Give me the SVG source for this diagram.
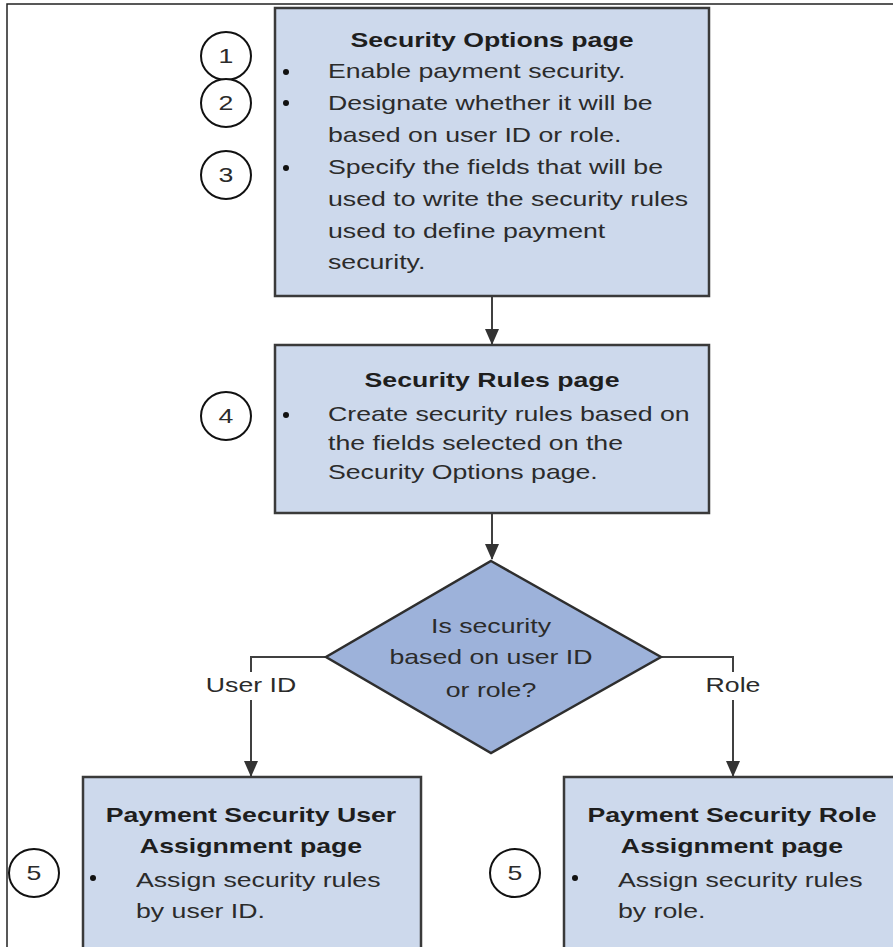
<svg xmlns="http://www.w3.org/2000/svg" width="893" height="947" viewBox="0 0 893 947" style="background:#fff">
<style>
.box{fill:#cdd9ec;stroke:#3a3a3a;stroke-width:2.5}
.dia{fill:#9db2da;stroke:#2e2e2e;stroke-width:2.5}
.num{fill:#fff;stroke:#111;stroke-width:2}
.t{font-family:"Liberation Sans",Arial,sans-serif;font-size:21px;fill:#2b2b2b}
.b{font-weight:bold;fill:#1e1e1e}
.m{text-anchor:middle}
.bul{fill:#111}
.ln{fill:none;stroke:#404040;stroke-width:2}
</style>
<defs>
<marker id="ah" markerWidth="16" markerHeight="14" refX="15" refY="7" orient="auto" markerUnits="userSpaceOnUse">
<path d="M0,0 L16,7 L0,14 z" fill="#333"/>
</marker>
</defs>
<path d="M7,947 V4 H900" fill="none" stroke="#222" stroke-width="1.5"/>

<g id="connectors">
<path class="ln" d="M492,296 V344" marker-end="url(#ah)"/>
<path class="ln" d="M492,513 V559" marker-end="url(#ah)"/>
<path class="ln" d="M326,657 H251 V672"/>
<path class="ln" d="M251,700 V776" marker-end="url(#ah)"/>
<path class="ln" d="M661,657 H733 V672"/>
<path class="ln" d="M733,700 V776" marker-end="url(#ah)"/>
<text class="t m" transform="translate(251,692) scale(1.27,1)">User ID</text>
<text class="t m" transform="translate(733,692) scale(1.27,1)">Role</text>
</g>

<g id="security-options">
<rect class="box" x="275" y="8" width="434" height="288"/>
<text class="t b m" transform="translate(492,47) scale(1.27,1)">Security Options page</text>
<circle class="bul" cx="286" cy="72" r="3"/>
<circle class="bul" cx="286" cy="103" r="3"/>
<circle class="bul" cx="286" cy="168" r="3"/>
<text class="t" transform="translate(328,78) scale(1.27,1)">Enable payment security.</text>
<text class="t" transform="translate(328,110) scale(1.27,1)">Designate whether it will be</text>
<text class="t" transform="translate(328,142) scale(1.27,1)">based on user ID or role.</text>
<text class="t" transform="translate(328,174) scale(1.27,1)">Specify the fields that will be</text>
<text class="t" transform="translate(328,206) scale(1.27,1)">used to write the security rules</text>
<text class="t" transform="translate(328,238) scale(1.27,1)">used to define payment</text>
<text class="t" transform="translate(328,269) scale(1.27,1)">security.</text>
</g>

<g id="step1">
<ellipse class="num" cx="226" cy="56" rx="25" ry="24"/>
<text class="t m" transform="translate(226,63) scale(1.27,1)">1</text>
</g>
<g id="step2">
<ellipse class="num" cx="226" cy="103" rx="25" ry="24"/>
<text class="t m" transform="translate(226,110) scale(1.27,1)">2</text>
</g>
<g id="step3">
<ellipse class="num" cx="226" cy="175" rx="25" ry="24"/>
<text class="t m" transform="translate(226,182) scale(1.27,1)">3</text>
</g>

<g id="security-rules">
<rect class="box" x="275" y="345" width="434" height="168"/>
<text class="t b m" transform="translate(492,387) scale(1.27,1)">Security Rules page</text>
<circle class="bul" cx="286" cy="415" r="3"/>
<text class="t" transform="translate(328,421) scale(1.27,1)">Create security rules based on</text>
<text class="t" transform="translate(328,450) scale(1.27,1)">the fields selected on the</text>
<text class="t" transform="translate(328,479) scale(1.27,1)">Security Options page.</text>
</g>
<g id="step4">
<ellipse class="num" cx="226" cy="416" rx="25" ry="24"/>
<text class="t m" transform="translate(226,423) scale(1.27,1)">4</text>
</g>

<g id="decision">
<path class="dia" d="M491,561 L661,657 L491,753 L326,657 Z"/>
<text class="t m" transform="translate(491,633) scale(1.27,1)">Is security</text>
<text class="t m" transform="translate(491,664) scale(1.27,1)">based on user ID</text>
<text class="t m" transform="translate(491,697) scale(1.27,1)">or role?</text>
</g>

<g id="user-assignment">
<rect class="box" x="83" y="777" width="338" height="172"/>
<text class="t b m" transform="translate(251,822) scale(1.27,1)">Payment Security User</text>
<text class="t b m" transform="translate(251,853) scale(1.27,1)">Assignment page</text>
<circle class="bul" cx="93" cy="878" r="3"/>
<text class="t" transform="translate(136,887) scale(1.27,1)">Assign security rules</text>
<text class="t" transform="translate(136,918) scale(1.27,1)">by user ID.</text>
</g>
<g id="step5a">
<ellipse class="num" cx="34" cy="873" rx="25" ry="24"/>
<text class="t m" transform="translate(34,880) scale(1.27,1)">5</text>
</g>

<g id="role-assignment">
<rect class="box" x="564" y="777" width="340" height="172"/>
<text class="t b m" transform="translate(732,822) scale(1.27,1)">Payment Security Role</text>
<text class="t b m" transform="translate(732,853) scale(1.27,1)">Assignment page</text>
<circle class="bul" cx="575" cy="878" r="3"/>
<text class="t" transform="translate(618,887) scale(1.27,1)">Assign security rules</text>
<text class="t" transform="translate(618,918) scale(1.27,1)">by role.</text>
</g>
<g id="step5b">
<ellipse class="num" cx="515" cy="873" rx="25" ry="24"/>
<text class="t m" transform="translate(515,880) scale(1.27,1)">5</text>
</g>
</svg>
